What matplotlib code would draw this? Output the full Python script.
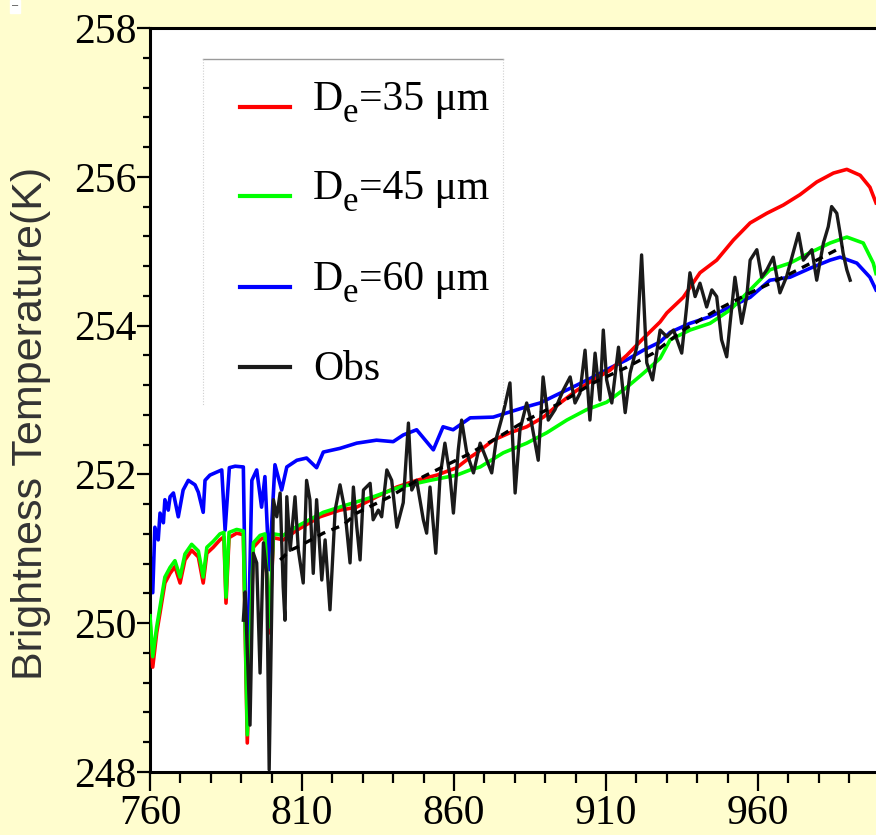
import matplotlib
matplotlib.use('Agg')
import matplotlib.pyplot as plt
from matplotlib.ticker import MultipleLocator
from matplotlib.patches import Rectangle
from matplotlib.lines import Line2D

plt.rcParams['font.family'] = 'Liberation Serif'

# wavenumber (cm-1) / brightness temperature (K)
red_x = [760.0, 760.9, 762.2, 763.3, 764.9, 766.6, 768.2, 769.9, 771.5, 773.7,
         775.9, 777.5, 778.7, 780.8, 783.0, 784.3, 785.0, 786.0, 788.5, 790.7,
         792.0, 794.0, 796.2, 797.8, 799.2, 800.6, 803.8, 808.3, 815.9, 822.5,
         828.0, 834.6, 841.2, 847.7, 854.3, 860.9, 865.3, 867.5, 872.9, 878.4,
         883.9, 889.4, 894.9, 900.4, 905.8, 911.3, 916.8, 922.3, 927.8, 930.0,
         935.4, 940.9, 946.4, 951.9, 957.4, 962.9, 968.3, 973.8, 979.3, 984.8,
         989.2, 993.6, 996.8, 998.8]
red_y = [250.04, 249.41, 249.87, 250.14, 250.54, 250.67, 250.76, 250.54, 250.85, 250.98,
         250.89, 250.54, 250.94, 251.02, 251.12, 251.16, 250.27, 251.15, 251.21, 251.19,
         248.39, 251.02, 251.12, 251.16, 249.87, 251.15, 251.12, 251.25, 251.43, 251.52,
         251.56, 251.70, 251.83, 251.92, 251.99, 252.09, 252.23, 252.29, 252.46, 252.56,
         252.64, 252.77, 252.96, 253.13, 253.27, 253.40, 253.60, 253.83, 254.05, 254.17,
         254.38, 254.71, 254.88, 255.15, 255.38, 255.51, 255.62, 255.76, 255.93, 256.05,
         256.10, 256.02, 255.86, 255.65]

green_x = [760.0, 760.9, 762.2, 763.3, 764.9, 766.6, 768.2, 769.9, 771.5, 773.7,
           775.9, 777.5, 778.7, 780.8, 783.0, 784.3, 785.0, 786.0, 788.5, 790.7,
           792.0, 794.0, 796.2, 797.8, 799.2, 800.6, 803.8, 808.3, 817.0, 824.7,
           833.5, 842.2, 852.1, 860.9, 865.3, 868.6, 876.2, 883.9, 890.5, 897.1,
           903.6, 910.2, 916.8, 922.3, 927.8, 931.1, 937.6, 944.2, 950.8, 957.4,
           963.9, 970.5, 977.1, 983.7, 989.2, 994.6, 997.9, 998.8]
green_y = [250.10, 249.55, 249.95, 250.22, 250.62, 250.75, 250.84, 250.62, 250.93, 251.06,
           250.97, 250.62, 251.02, 251.10, 251.20, 251.22, 250.35, 251.22, 251.26, 251.24,
           248.50, 251.08, 251.18, 251.20, 249.95, 251.20, 251.18, 251.30, 251.49, 251.59,
           251.70, 251.83, 251.92, 251.99, 252.06, 252.10, 252.29, 252.42, 252.56, 252.73,
           252.87, 252.97, 253.17, 253.36, 253.56, 253.81, 253.94, 254.03, 254.21, 254.48,
           254.75, 254.84, 254.98, 255.11, 255.19, 255.11, 254.84, 254.70]

blue_x = [760.0, 760.9, 761.6, 762.7, 763.3, 764.4, 764.9, 766.0, 766.6, 767.7,
          769.3, 770.9, 772.6, 774.8, 775.9, 777.5, 778.1, 779.7, 781.9, 783.6,
          784.7, 786.1, 788.0, 790.7, 791.9, 793.5, 795.1, 796.7, 797.8, 799.2,
          801.1, 803.3, 805.0, 808.3, 811.5, 814.8, 817.0, 822.5, 828.0, 834.5,
          840.0, 843.3, 847.7, 853.2, 856.4, 859.7, 865.3, 872.9, 878.4, 883.9,
          888.3, 893.8, 900.4, 905.8, 911.3, 916.8, 922.3, 927.8, 931.1, 937.6,
          944.2, 950.8, 957.4, 963.9, 970.5, 977.1, 983.7, 987.0, 992.5, 996.8,
          998.8]
blue_y = [250.94, 250.41, 251.29, 251.12, 251.48, 251.35, 251.66, 251.52, 251.70, 251.75,
          251.43, 251.79, 251.92, 251.86, 251.76, 251.49, 251.92, 251.99, 252.03, 252.06,
          251.25, 252.09, 252.11, 252.10, 248.90, 251.92, 252.06, 251.56, 251.97, 250.72,
          252.13, 251.79, 252.10, 252.19, 252.22, 252.09, 252.30, 252.35, 252.42, 252.46,
          252.44, 252.53, 252.60, 252.33, 252.64, 252.60, 252.76, 252.77, 252.84, 252.91,
          252.96, 253.07, 253.20, 253.31, 253.43, 253.54, 253.67, 253.78, 253.91, 254.03,
          254.12, 254.25, 254.38, 254.61, 254.65, 254.77, 254.88, 254.92, 254.84, 254.65,
          254.48]

obs_x = [790.7, 791.3, 792.9, 794.0, 795.1, 796.2, 797.3, 798.4, 799.2, 800.6,
         801.7, 802.8, 803.8, 804.4, 805.0, 806.1, 807.7, 808.8, 810.4, 811.5,
         812.6, 813.7, 814.8, 816.5, 817.6, 819.2, 820.9, 822.5, 824.1, 825.8,
         826.9, 828.0, 829.1, 830.2, 832.4, 833.4, 835.1, 836.2, 837.9, 839.5,
         841.2, 843.3, 845.0, 846.1, 847.7, 849.9, 851.0, 852.1, 854.0, 855.4,
         857.0, 858.7, 859.8, 861.4, 862.5, 864.2, 866.4, 868.6, 870.8, 872.4,
         874.0, 876.2, 878.4, 880.1, 881.7, 883.9, 885.5, 887.7, 889.3, 891.0,
         893.2, 895.9, 898.2, 899.8, 901.4, 903.1, 904.7, 906.4, 908.0, 909.1,
         910.2, 911.9, 914.1, 916.3, 917.9, 920.1, 921.7, 923.4, 925.3, 927.8,
         930.0, 932.2, 934.9, 936.5, 937.6, 939.3, 940.9, 943.1, 944.8, 946.4,
         948.0, 949.7, 950.8, 952.4, 954.6, 956.3, 957.4, 959.6, 961.2, 962.9,
         965.0, 967.2, 969.4, 973.3, 974.9, 977.7, 979.3, 981.5, 983.1, 984.2,
         985.9, 987.0, 988.0, 989.2, 990.3]
obs_y = [250.04, 250.42, 248.63, 250.94, 250.81, 249.33, 251.08, 250.67, 248.03, 251.66,
         251.43, 251.75, 250.49, 250.04, 251.70, 250.98, 251.70, 250.98, 250.54, 251.92,
         251.66, 250.67, 251.66, 250.58, 251.12, 250.18, 251.52, 251.86, 251.52, 250.81,
         251.83, 251.30, 250.85, 251.79, 251.88, 251.39, 251.52, 251.43, 252.06, 251.92,
         251.29, 251.62, 252.69, 251.79, 251.92, 251.39, 251.21, 251.83, 250.94, 251.97,
         252.42, 251.97, 251.48, 252.33, 252.73, 252.29, 252.02, 252.42, 252.19, 252.02,
         252.50, 252.83, 253.23, 251.75, 252.60, 252.96, 252.69, 252.19, 253.31, 252.73,
         252.87, 253.13, 253.31, 252.96, 253.09, 253.67, 252.73, 253.63, 253.00, 253.94,
         253.27, 252.96, 253.71, 252.83, 253.36, 253.71, 254.95, 253.50, 253.27, 253.94,
         253.85, 253.94, 253.63, 254.25, 254.71, 254.39, 254.57, 254.25, 254.48, 254.39,
         253.81, 253.58, 254.03, 254.65, 254.03, 254.39, 254.88, 255.02, 254.65, 254.75,
         254.92, 254.44, 254.66, 255.24, 254.88, 255.02, 254.61, 255.11, 255.33, 255.60,
         255.51, 255.24, 254.97, 254.75, 254.61]

smooth_x = [802.8, 806.1, 808.3, 814.8, 817.0, 823.6, 828.0, 838.9, 849.9, 858.7,
            864.2, 872.9, 883.9, 894.9, 905.8, 916.8, 925.6, 935.4, 946.4, 957.4,
            968.3, 979.3, 985.9, 988.0]
smooth_y = [250.85, 250.98, 251.02, 251.16, 251.21, 251.32, 251.48, 251.70, 251.97, 252.15,
            252.26, 252.46, 252.73, 252.96, 253.23, 253.44, 253.63, 253.94, 254.21, 254.44,
            254.65, 254.88, 255.02, 255.06]

xticks = [760, 810, 860, 910, 960]
yticks = [248, 250, 252, 254, 256, 258]
sizes = ['35', '45', '60']
colors = ['#FF0000', '#00FF00', '#0000FF', '#1a1a1a']

bg = '#FFFDCE'
W, H = 876, 835
fig = plt.figure(figsize=(W / 100, H / 100), dpi=100, facecolor=bg)
ax = fig.add_axes([150 / W, 63 / H, 726 / W, 744 / H])
ax.set_facecolor('white')

ax.plot(blue_x, blue_y, color=colors[2], lw=2.6, zorder=2)
ax.plot(red_x, red_y, color=colors[0], lw=2.6, zorder=3)
ax.plot(green_x, green_y, color=colors[1], lw=2.6, zorder=4)
ax.plot(obs_x, obs_y, color=colors[3], lw=2.4, zorder=5)
ax.plot(smooth_x, smooth_y, color='black', lw=2.4, ls=(0, (2.5, 2)), zorder=6)

ax.set_xlim(760, 998.8)
ax.set_ylim(248, 258)
ax.set_xticks(xticks)
ax.set_yticks(yticks)
ax.xaxis.set_minor_locator(MultipleLocator(10))
ax.yaxis.set_minor_locator(MultipleLocator(0.4))

for side in ['left', 'top', 'bottom']:
    ax.spines[side].set_linewidth(2.2)
ax.spines['right'].set_visible(False)

ax.tick_params(axis='x', which='major', length=14, width=1.6, labelsize=30, pad=2)
ax.tick_params(axis='x', which='minor', length=8, width=1.6)
ax.tick_params(axis='y', which='major', length=9.5, width=1.6, labelsize=30, pad=0)
ax.tick_params(axis='y', which='minor', length=5, width=1.6)

fig.text(31 / W, 1 - 423 / H, 'Brightness Temperature(K)', rotation=90,
         ha='center', va='center', fontsize=31, family='Liberation Sans',
         color='#333333')


# legend drawn by hand (the subscript sits well below the baseline)
def px(x, y):
    return (x - 150) / 726, (772 - y) / 744


tr = ax.transAxes
x0, y0 = px(203, 59)
x1, y1 = px(503, 405)
ax.add_patch(Rectangle((x0, y1), x1 - x0, y0 - y1, transform=tr,
                       facecolor='white', edgecolor='none', zorder=7))
ax.add_line(Line2D([x0, x1], [y0, y0], transform=tr, color='#9a9a9a',
                   lw=1.0, zorder=8))
for xe in (x0, x1):
    ax.add_line(Line2D([xe, xe], [y0, y1], transform=tr, color='#cfcfcf',
                       lw=0.8, ls=(0, (1, 1.5)), zorder=8))

rows_line = [107, 196, 287, 367]
rows_base = [110, 199, 290, 380]
hx0, _ = px(240, 0)
hx1, _ = px(290, 0)
tx, _ = px(313, 0)
for i in range(4):
    _, hy = px(0, rows_line[i])
    ax.add_line(Line2D([hx0, hx1], [hy, hy], transform=tr, color=colors[i],
                       lw=3, zorder=9))
    _, by = px(0, rows_base[i])
    if i < 3:
        d = ax.text(tx, by, 'D', transform=tr, fontsize=30, va='baseline',
                    ha='left', zorder=9)
        e = ax.annotate('e', xy=(1, 0), xycoords=d, xytext=(0, -8),
                        textcoords='offset points', fontsize=25,
                        va='bottom', ha='left', zorder=9)
        ax.annotate('=' + sizes[i] + ' μm', xy=(1, 0), xycoords=(e, d),
                    fontsize=30, va='bottom', ha='left', zorder=9)
    else:
        ax.text(tx, by, 'Obs', transform=tr, fontsize=30, va='baseline',
                ha='left', zorder=9)

# small white mark in the top-left corner
fig.patches.append(Rectangle((10 / W, 1 - 13 / H), 10 / W, 13 / H,
                             transform=fig.transFigure, color='white'))
fig.text(15 / W, 1 - 6 / H, '−', fontsize=7, ha='center', va='center',
         family='DejaVu Sans', color='#555555')

fig.savefig('out.png', dpi=100, facecolor=bg)
